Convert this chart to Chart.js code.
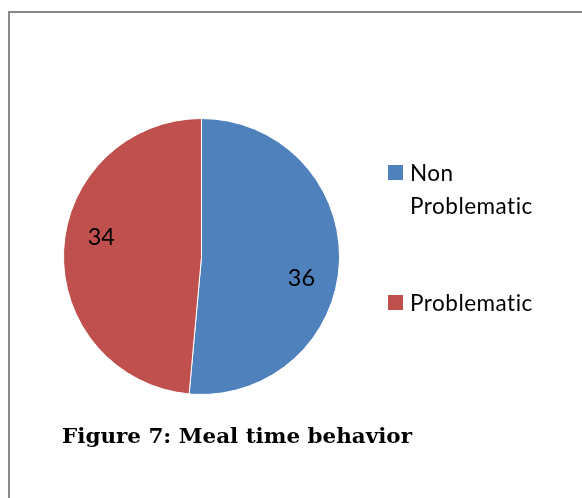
<!DOCTYPE html>
<html>
<head>
<meta charset="utf-8">
<script src="https://cdn.jsdelivr.net/npm/chart.js@4/dist/chart.umd.min.js"></script>
<style>
  html, body { margin: 0; padding: 0; background: #fff; }
  #wrap { position: relative; width: 582px; height: 498px; overflow: hidden; }
  #frame { position: absolute; left: 8px; top: 11px; width: 700px; height: 600px;
           border-left: 2px solid #8a8a8a; border-top: 2px solid #8a8a8a; box-sizing: border-box; }
  #chart { position: absolute; left: 0; top: 0; }
  #caption { position: absolute; left: 62px; top: 425.5px; white-space: nowrap;
             font-family: "DejaVu Serif", serif; font-weight: bold; font-size: 20px;
             color: #000; transform-origin: 0 0; line-height: 1; }
</style>
</head>
<body>
<div id="wrap">
  <div id="frame"></div>
  <canvas id="chart" width="582" height="498"></canvas>
  <div id="caption"></div>
</div>
<script>
const categories = ["Non Problematic", "Problematic"];
const values = [36, 34];
const colors = ["#4F81BD", "#C0504D"];
const captionText = "Figure 7: Meal time behavior";

const cap = document.getElementById('caption');
cap.textContent = captionText;
const capW = cap.getBoundingClientRect().width;
cap.style.transform = 'scaleX(' + (350 / capW) + ')';

const labelFont = '23.5px Lato, sans-serif';
const legendFont = '22.5px Lato, sans-serif';

const sliceLabels = {
  id: 'sliceLabels',
  afterDatasetsDraw(chart) {
    const ctx = chart.ctx;
    const meta = chart.getDatasetMeta(0);
    ctx.save();
    ctx.font = labelFont;
    ctx.fillStyle = '#000';
    ctx.textAlign = 'center';
    ctx.textBaseline = 'middle';
    meta.data.forEach((arc, i) => {
      const p = arc.getProps(['x', 'y', 'startAngle', 'endAngle', 'outerRadius'], true);
      const a = p.startAngle + 0.55 * (p.endAngle - p.startAngle);
      const r = 0.74 * p.outerRadius;
      ctx.fillText(String(chart.data.datasets[0].data[i]), p.x + Math.cos(a) * r, p.y + Math.sin(a) * r + 1);
    });
    ctx.restore();
  }
};

const sideLegend = {
  id: 'sideLegend',
  afterDraw(chart) {
    const ctx = chart.ctx;
    ctx.save();
    ctx.font = legendFont;
    if ('letterSpacing' in ctx) ctx.letterSpacing = '0.5px';
    ctx.textBaseline = 'alphabetic';
    const boxX = 388, textX = 410, box = 15, lineH = 33, maxW = 150;
    const tops = [165, 295];
    chart.data.labels.forEach((label, i) => {
      const words = label.split(' ');
      const lines = [];
      let cur = '';
      words.forEach(w => {
        const t = cur ? cur + ' ' + w : w;
        if (cur && ctx.measureText(t).width > maxW) { lines.push(cur); cur = w; } else { cur = t; }
      });
      if (cur) lines.push(cur);
      const top = tops[i];
      ctx.fillStyle = chart.data.datasets[0].backgroundColor[i];
      ctx.fillRect(boxX, top, box, box);
      ctx.fillStyle = '#000';
      lines.forEach((ln, j) => ctx.fillText(ln, textX, top + 15.5 + j * lineH));
    });
    ctx.restore();
  }
};

new Chart(document.getElementById('chart'), {
  type: 'pie',
  data: {
    labels: categories,
    datasets: [{
      data: values,
      backgroundColor: colors,
      borderColor: '#ffffff',
      borderWidth: 1
    }]
  },
  options: {
    responsive: false,
    animation: false,
    layout: { padding: { left: 63, right: 242, top: 118, bottom: 103 } },
    plugins: { legend: { display: false }, tooltip: { enabled: false } }
  },
  plugins: [sliceLabels, sideLegend]
});
</script>
</body>
</html>
